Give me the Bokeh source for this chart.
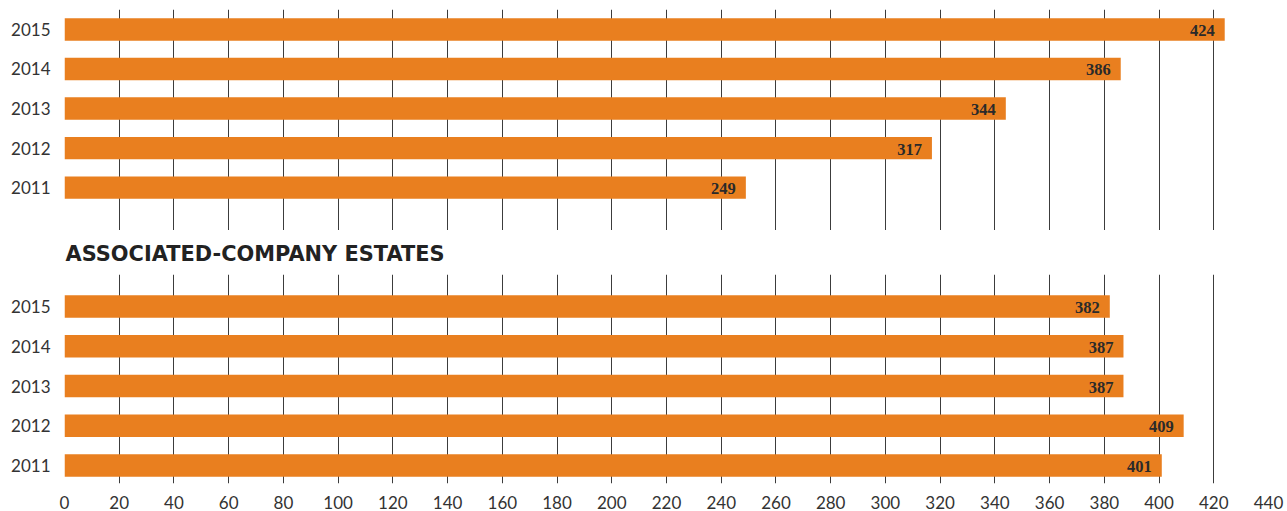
from bokeh.plotting import figure
from bokeh.layouts import column
from bokeh.models import Range1d, FixedTicker, ColumnDataSource
from bokeh.core.properties import value
from bokeh.embed import file_html
from bokeh.resources import INLINE

years = [2015, 2014, 2013, 2012, 2011]
own_values = [424, 386, 344, 317, 249]
assoc_values = [382, 387, 387, 409, 401]
x_ticks = list(range(0, 441, 20))
section_title = "ASSOCIATED-COMPANY ESTATES"

BAR = "#E97F1F"
GRID = "#3c3c3c"
TXT = "#333333"

x_range = Range1d(0, 440)


def make_fig(height, border_top, border_bottom, y_start, y_end, vals, show_x):
    p = figure(width=1287, height=height, x_range=x_range,
               y_range=Range1d(y_start, y_end),
               output_backend="svg", toolbar_location=None,
               x_axis_location="below" if show_x else None,
               min_border_left=64, min_border_right=19,
               min_border_top=border_top, min_border_bottom=border_bottom)
    p.outline_line_color = None
    p.background_fill_color = "white"
    p.border_fill_color = "white"
    p.ygrid.grid_line_color = None
    p.xgrid.ticker = FixedTicker(ticks=x_ticks)
    p.xgrid.grid_line_color = GRID
    p.xgrid.grid_line_width = 1

    src = ColumnDataSource(dict(y=years, v=vals, lbl=[str(v) for v in vals]))
    p.hbar(y="y", right="v", left=0, height=0.565, source=src,
           fill_color=BAR, line_color=None)
    p.text(x="v", y="y", text="lbl", source=src, text_align="right",
           text_baseline="middle", x_offset=-10, y_offset=1,
           text_font=value("Liberation Serif"), text_font_style="bold",
           text_font_size="16.5px", text_color="#2a2a2a")

    ya = p.yaxis[0]
    ya.ticker = FixedTicker(ticks=years)
    ya.axis_line_color = None
    ya.major_tick_line_color = None
    ya.minor_tick_line_color = None
    ya.major_tick_out = 0
    ya.major_label_standoff = 14
    ya.major_label_text_font = "Lato"
    ya.major_label_text_font_size = "17px"
    ya.major_label_text_color = TXT

    if show_x:
        xa = p.xaxis[0]
        xa.ticker = FixedTicker(ticks=x_ticks)
        xa.axis_line_color = None
        xa.major_tick_line_color = None
        xa.minor_tick_line_color = None
        xa.major_tick_out = 0
        xa.major_label_standoff = 12
        xa.major_label_text_font = "Lato"
        xa.major_label_text_font_size = "17px"
        xa.major_label_text_color = TXT
    return p


p1 = make_fig(230, 9, 0, 2011 - 1.086, 2015 + 0.505, own_values, False)
p2 = make_fig(281, 44, 28, 2011 - 0.455, 2015 + 0.808, assoc_values, True)
p2.title.text = section_title
p2.title.text_font = "DejaVu Sans"
p2.title.text_font_style = "bold"
p2.title.text_font_size = "20.9px"
p2.title.text_color = "#222222"
p2.title.align = "left"
p2.title.offset = 1
p2.title.standoff = 18

layout = column(p1, p2, spacing=0)
open("out.html", "w").write(file_html(layout, INLINE))
